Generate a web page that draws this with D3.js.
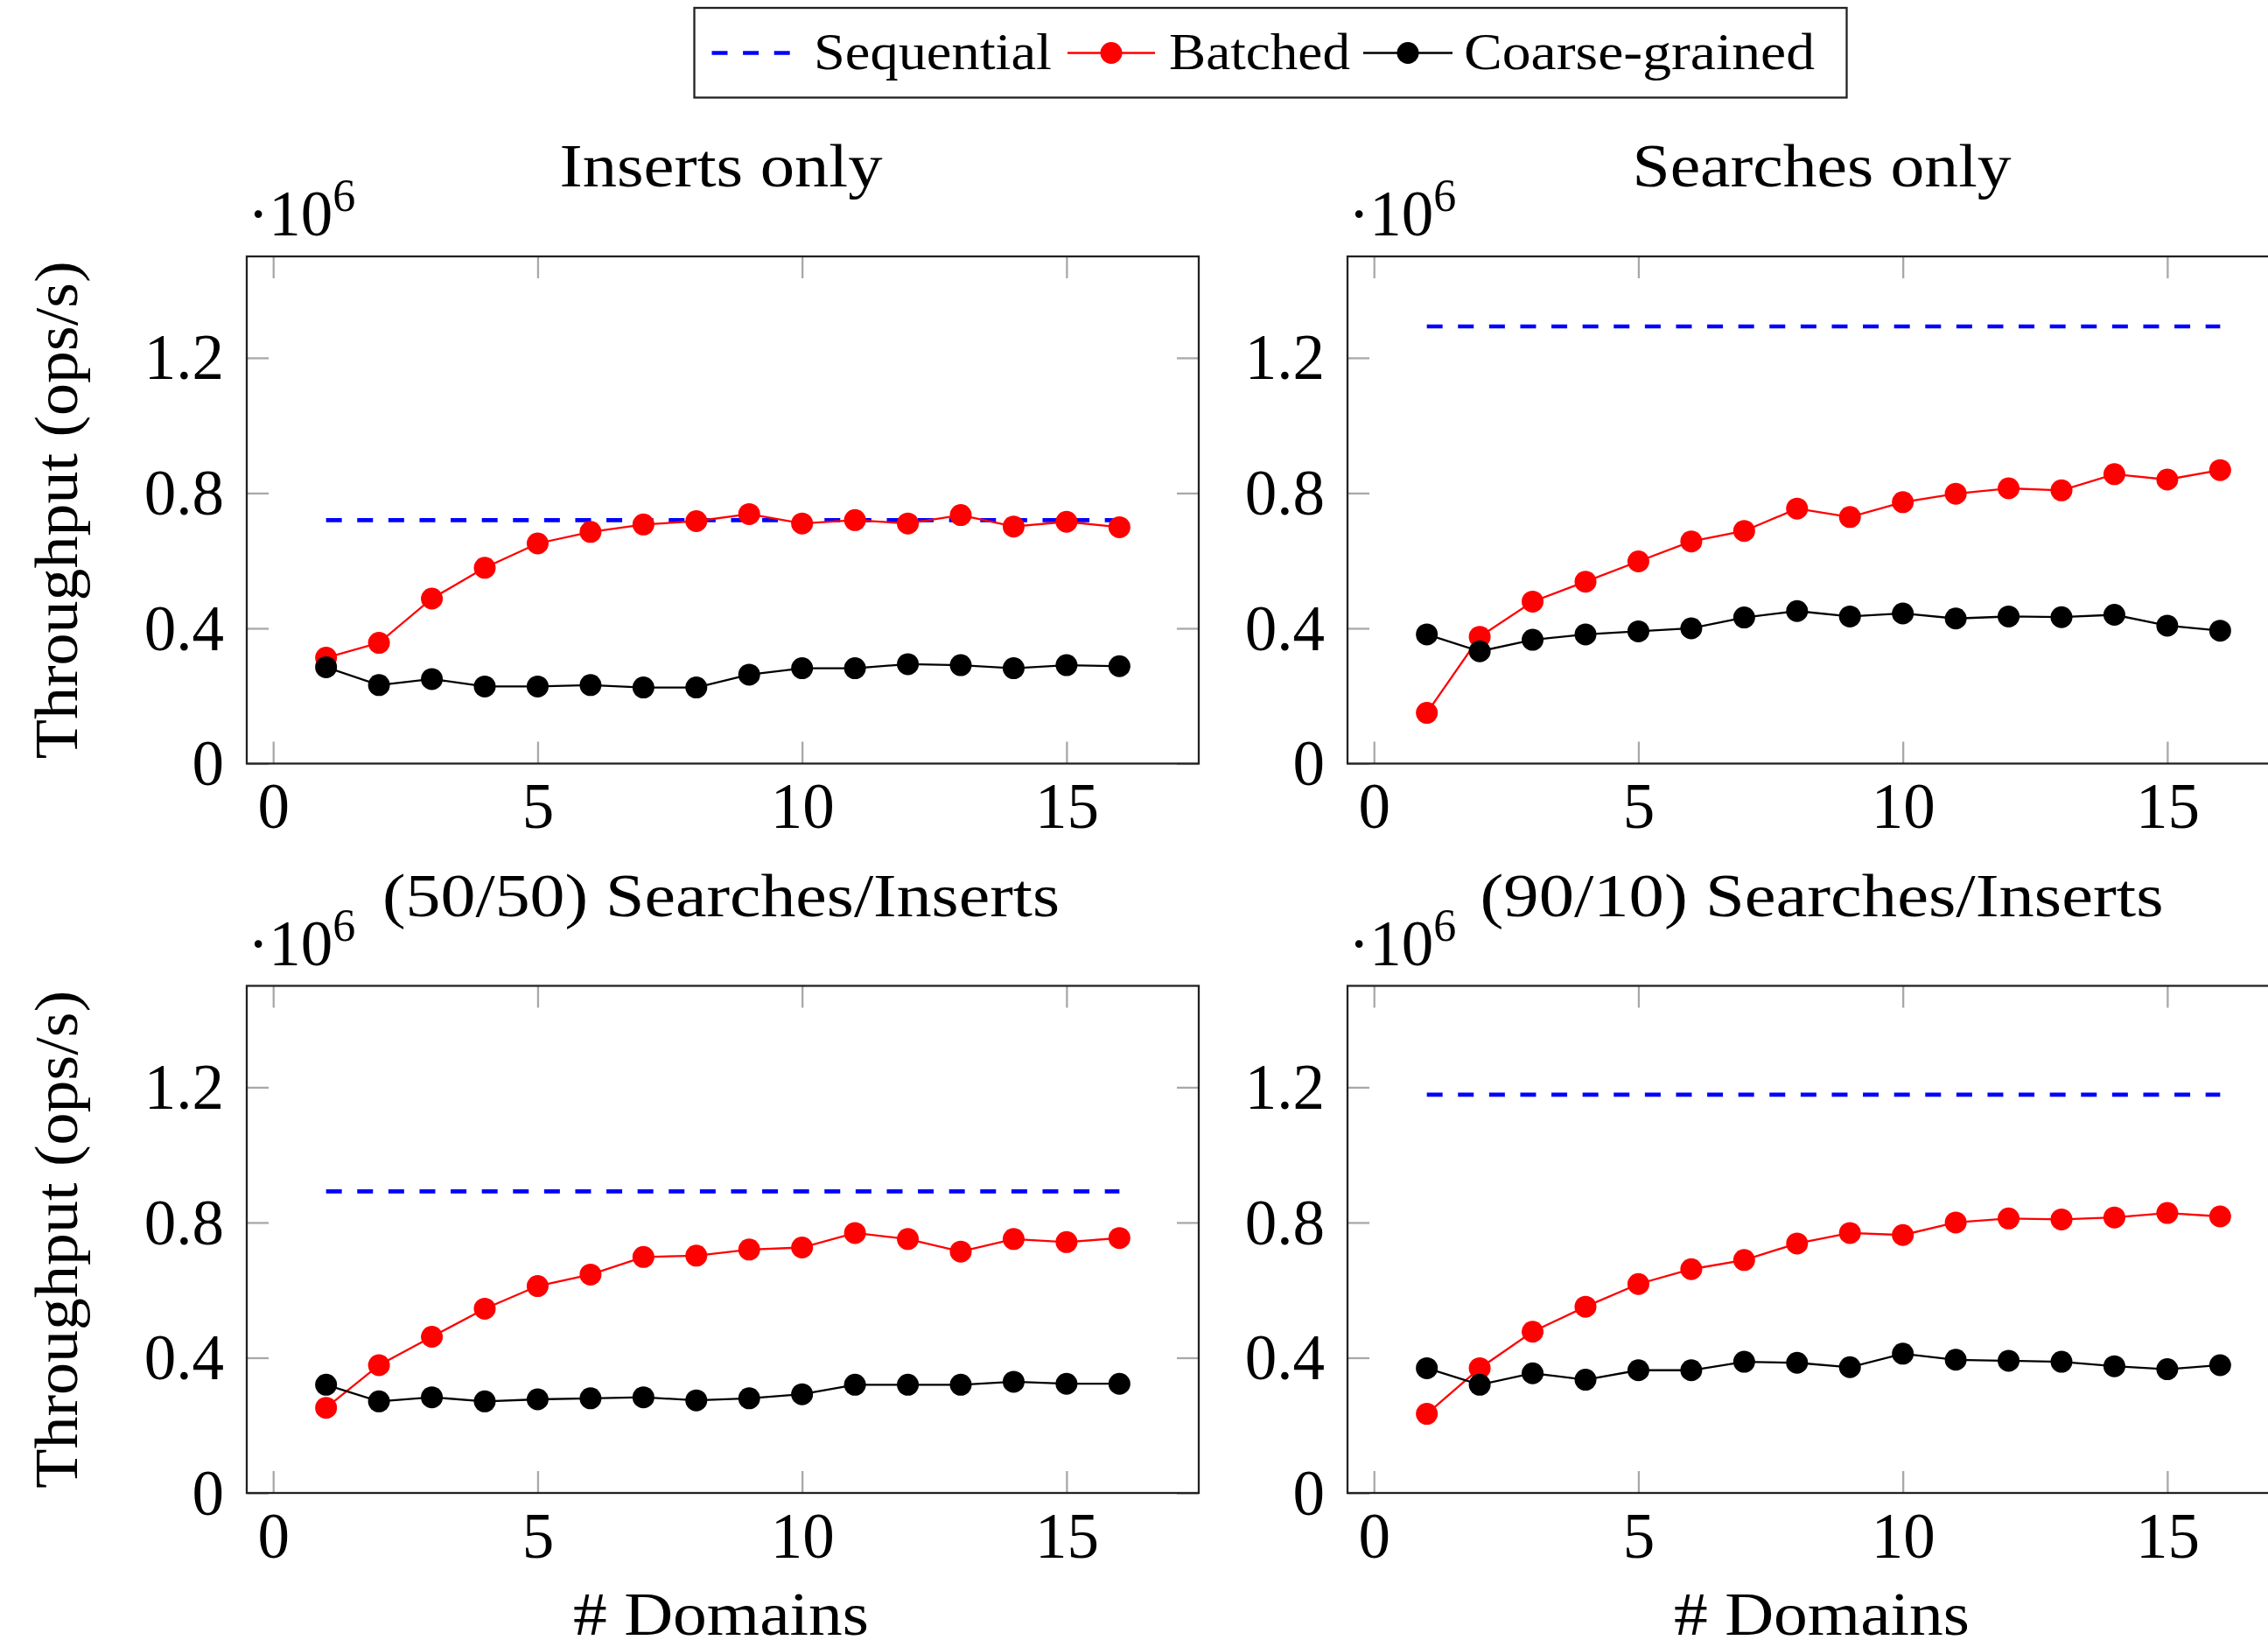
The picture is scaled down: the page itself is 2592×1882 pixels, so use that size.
<!DOCTYPE html>
<html>
<head>
<meta charset="utf-8">
<script src="https://cdn.jsdelivr.net/npm/d3@7"></script>
<style>
  html, body { margin: 0; padding: 0; background: #fff; }
  svg { display: block; }
  text { font-family: "Liberation Serif", "DejaVu Serif", serif; fill: #000; }
</style>
</head>
<body>
<script>
// ---------------- data (throughput in 10^6 ops/s) ----------------
const domains = [1, 2, 3, 4, 5, 6, 7, 8, 9, 10, 11, 12, 13, 14, 15, 16];
const panelTitles = ["Inserts only", "Searches only", "(50/50) Searches/Inserts", "(90/10) Searches/Inserts"];
const seriesNames = ["Sequential", "Batched", "Coarse-grained"];
const xTicks = [0, 5, 10, 15];
const yTicks = [0, 0.4, 0.8, 1.2];

const sequentialInserts = 0.72;
const sequentialSearches = 1.293;
const sequential5050 = 0.892;
const sequential9010 = 1.178;

const batchedInserts  = [0.313, 0.357, 0.488, 0.579, 0.651, 0.685, 0.707, 0.717, 0.738, 0.710, 0.720, 0.710, 0.735, 0.701, 0.715, 0.699];
const batchedSearches = [0.150, 0.375, 0.479, 0.538, 0.598, 0.657, 0.688, 0.754, 0.729, 0.773, 0.798, 0.814, 0.808, 0.856, 0.840, 0.868];
const batched5050     = [0.252, 0.378, 0.462, 0.545, 0.612, 0.646, 0.698, 0.702, 0.720, 0.726, 0.769, 0.751, 0.714, 0.751, 0.742, 0.754];
const batched9010     = [0.234, 0.369, 0.477, 0.551, 0.618, 0.662, 0.689, 0.738, 0.769, 0.763, 0.800, 0.812, 0.809, 0.815, 0.828, 0.818];

const coarseInserts  = [0.285, 0.232, 0.250, 0.228, 0.228, 0.232, 0.225, 0.225, 0.263, 0.282, 0.282, 0.294, 0.291, 0.282, 0.291, 0.288];
const coarseSearches = [0.382, 0.332, 0.366, 0.382, 0.391, 0.400, 0.432, 0.451, 0.435, 0.444, 0.429, 0.435, 0.433, 0.440, 0.408, 0.393];
const coarse5050     = [0.320, 0.271, 0.283, 0.271, 0.277, 0.280, 0.283, 0.274, 0.280, 0.292, 0.320, 0.320, 0.320, 0.329, 0.323, 0.323];
const coarse9010     = [0.369, 0.320, 0.354, 0.335, 0.363, 0.363, 0.388, 0.385, 0.372, 0.412, 0.394, 0.391, 0.388, 0.375, 0.366, 0.378];

const sequentialByPanel = [sequentialInserts, sequentialSearches, sequential5050, sequential9010];
const batchedByPanel = [batchedInserts, batchedSearches, batched5050, batched9010];
const coarseByPanel = [coarseInserts, coarseSearches, coarse5050, coarse9010];

// ---------------- layout ----------------
const W = 2592, H = 1882;
const colLeft = [282, 1540];
const rowTop = [293, 1126.5];
const PW = 1088, PH = 579.5;
const titleWidths = [369, 433, 774, 781];
const colors = { seq: "#0000ff", bat: "#ff0000", coarse: "#000000" };
const thin = 2.3, thick = 4.6, markerR = 12.5, tickLen = 25;
const dash = "18,17.6";

const svg = d3.select("body").append("svg").attr("width", W).attr("height", H);
svg.append("rect").attr("width", W).attr("height", H).attr("fill", "#fff");

const yFmt = d => d === 0 ? "0" : d3.format(".1f")(d);

panelTitles.forEach((title, i) => {
  const col = i % 2, row = Math.floor(i / 2);
  const left = colLeft[col], top = rowTop[row];
  const x = d3.scaleLinear().domain([-0.5, 17.5]).range([left, left + PW]);
  const y = d3.scaleLinear().domain([0, 1.5]).range([top + PH, top]);
  const g = svg.append("g");

  // axes (inward ticks)
  const gb = g.append("g").attr("transform", `translate(0,${top + PH})`)
    .call(d3.axisBottom(x).tickValues(xTicks).tickSizeInner(-tickLen).tickSizeOuter(0).tickPadding(22));
  const gt = g.append("g").attr("transform", `translate(0,${top})`)
    .call(d3.axisTop(x).tickValues(xTicks).tickSizeInner(-tickLen).tickSizeOuter(0).tickFormat(""));
  const gl = g.append("g").attr("transform", `translate(${left},0)`)
    .call(d3.axisLeft(y).tickValues(yTicks).tickSizeInner(-tickLen).tickSizeOuter(0).tickPadding(26).tickFormat(yFmt));
  const gr = g.append("g").attr("transform", `translate(${left + PW},0)`)
    .call(d3.axisRight(y).tickValues(yTicks).tickSizeInner(-tickLen).tickSizeOuter(0).tickFormat(""));
  [gb, gt, gl, gr].forEach(a => {
    a.select(".domain").remove();
    a.selectAll(".tick line").attr("stroke", "#a8a8a8").attr("stroke-width", thin);
    a.selectAll(".tick text").attr("font-size", 73).attr("font-family", "Liberation Serif, serif").attr("fill", "#000");
  });
  gl.selectAll(".tick text").attr("dy", "0.33em");

  // sequential dashed line
  const seqVal = sequentialByPanel[i];
  const seqPts = [domains[0], domains[domains.length - 1]].map(d => [x(d), y(seqVal)]);
  g.append("path").attr("d", d3.line()(seqPts))
    .attr("fill", "none").attr("stroke", colors.seq).attr("stroke-width", thick).attr("stroke-dasharray", dash);

  const line = d3.line().x(d => x(d[0])).y(d => y(d[1]));
  [[batchedByPanel[i], colors.bat], [coarseByPanel[i], colors.coarse]].forEach(([vals, c]) => {
    const pts = domains.map((d, k) => [d, vals[k]]);
    g.append("path").attr("d", line(pts)).attr("fill", "none").attr("stroke", c).attr("stroke-width", thin);
    g.selectAll(null).data(pts).enter().append("circle")
      .attr("cx", d => x(d[0])).attr("cy", d => y(d[1])).attr("r", markerR).attr("fill", c);
  });

  // frame
  g.append("rect").attr("x", left).attr("y", top).attr("width", PW).attr("height", PH)
    .attr("fill", "none").attr("stroke", "#222").attr("stroke-width", thin);

  // multiplier
  const m = g.append("text").attr("x", left + 1).attr("y", top - 24).attr("font-size", 73);
  m.append("tspan").text("·10");
  m.append("tspan").attr("font-size", 52).attr("dy", -28).text("6");

  // title
  g.append("text").attr("x", left + PW / 2 - 2).attr("y", top - 80)
    .attr("text-anchor", "middle").attr("font-size", 70)
    .attr("textLength", titleWidths[i]).attr("lengthAdjust", "spacingAndGlyphs").text(title);

  // y label (left column)
  if (col === 0) {
    g.append("text").attr("transform", `translate(88,${top + PH / 2}) rotate(-90)`)
      .attr("text-anchor", "middle").attr("font-size", 70)
      .attr("textLength", 569).attr("lengthAdjust", "spacingAndGlyphs").text("Throughput (ops/s)");
  }
  // x label (bottom row)
  if (row === 1) {
    g.append("text").attr("x", left + PW / 2 - 2).attr("y", 1868)
      .attr("text-anchor", "middle").attr("font-size", 70)
      .attr("textLength", 338).attr("lengthAdjust", "spacingAndGlyphs").text("# Domains");
  }
});

// ---------------- legend ----------------
const lg = svg.append("g");
lg.append("rect").attr("x", 793.5).attr("y", 9).attr("width", 1317).attr("height", 102.5)
  .attr("fill", "#fff").attr("stroke", "#222").attr("stroke-width", thin);
const ly = 60.5;
const legendItems = [
  { name: seriesNames[0], x0: 813.5, x1: 903, color: colors.seq, dashed: true, tx: 930, tw: 272 },
  { name: seriesNames[1], x0: 1220, x1: 1320, color: colors.bat, dashed: false, tx: 1336, tw: 207 },
  { name: seriesNames[2], x0: 1558, x1: 1660, color: colors.coarse, dashed: false, tx: 1673, tw: 401 }
];
legendItems.forEach(it => {
  lg.append("line").attr("x1", it.x0).attr("x2", it.x1).attr("y1", ly).attr("y2", ly)
    .attr("stroke", it.color).attr("stroke-width", it.dashed ? thick : thin)
    .attr("stroke-dasharray", it.dashed ? dash : null);
  if (!it.dashed) {
    lg.append("circle").attr("cx", (it.x0 + it.x1) / 2).attr("cy", ly).attr("r", markerR).attr("fill", it.color);
  }
  lg.append("text").attr("x", it.tx).attr("y", 79).attr("font-size", 60)
    .attr("textLength", it.tw).attr("lengthAdjust", "spacingAndGlyphs").text(it.name);
});
</script>
</body>
</html>
